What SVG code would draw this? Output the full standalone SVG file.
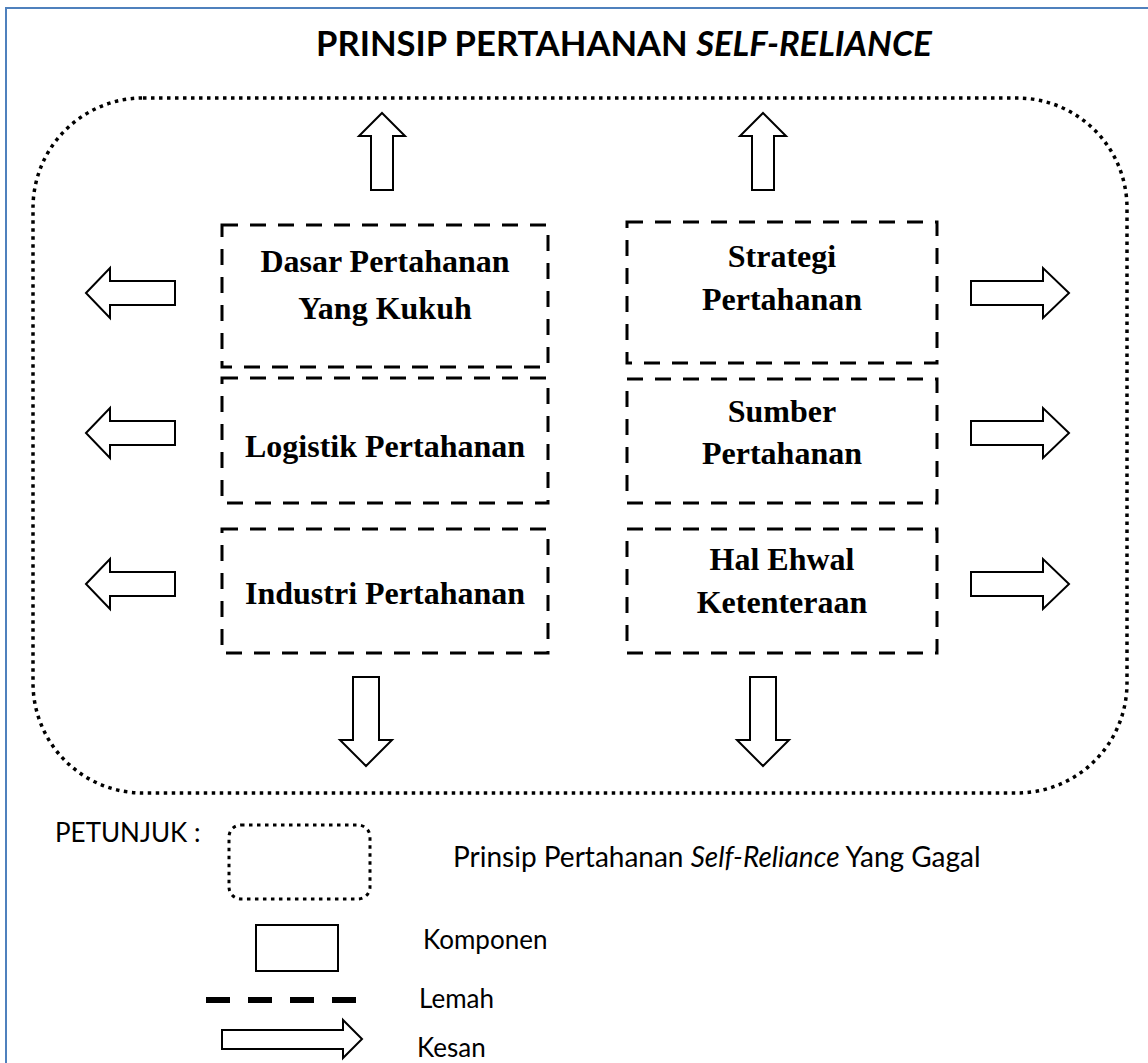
<svg xmlns="http://www.w3.org/2000/svg" width="1148" height="1063" viewBox="0 0 1148 1063">
<style>
.frame{fill:none;stroke:#4f81bd;stroke-width:2}
.outer{fill:none;stroke:#000;stroke-width:3.5;stroke-dasharray:3.5 4.5}
.box{fill:none;stroke:#000;stroke-width:3;stroke-dasharray:16 12}
.arrow{fill:#fff;stroke:#000;stroke-width:2;stroke-linejoin:miter}
.btext{font-family:"Liberation Serif","Times New Roman",serif;font-weight:bold;font-size:32px;text-anchor:middle;fill:#000}
.title{font-family:Lato,"Liberation Sans",sans-serif;font-weight:bold;font-size:34.6px;fill:#000}
.leg{font-family:Lato,"Liberation Sans",sans-serif;font-size:26px;fill:#000}
</style>
<rect class="frame" x="6" y="8" width="1200" height="1100"/>
<text class="title" x="316" y="56">PRINSIP PERTAHANAN <tspan font-style="italic">SELF-RELIANCE</tspan></text>
<g id="outer-boundary">
<rect class="outer" x="33" y="98" width="1094" height="695" rx="110" ry="110"/>
</g>
<g id="node-dasar">
<rect class="box" x="222" y="225" width="326" height="142"/>
<text class="btext" x="385" y="272">Dasar Pertahanan</text>
<text class="btext" x="385" y="319">Yang Kukuh</text>
</g>
<g id="node-logistik">
<rect class="box" x="222" y="378" width="326" height="125"/>
<text class="btext" x="385" y="457">Logistik Pertahanan</text>
</g>
<g id="node-industri">
<rect class="box" x="222" y="529" width="326" height="124"/>
<text class="btext" x="385" y="604">Industri Pertahanan</text>
</g>
<g id="node-strategi">
<rect class="box" x="627" y="222" width="310" height="141"/>
<text class="btext" x="782" y="267">Strategi</text>
<text class="btext" x="782" y="310">Pertahanan</text>
</g>
<g id="node-sumber">
<rect class="box" x="627" y="379" width="310" height="124"/>
<text class="btext" x="782" y="422">Sumber</text>
<text class="btext" x="782" y="464">Pertahanan</text>
</g>
<g id="node-halehwal">
<rect class="box" x="627" y="529" width="310" height="124"/>
<text class="btext" x="782" y="570">Hal Ehwal</text>
<text class="btext" x="782" y="613">Ketenteraan</text>
</g>
<g id="connectors">
<polygon class="arrow" points="382,113 405,136 393,136 393,190 371,190 371,136 359,136"/>
<polygon class="arrow" points="763,113 786,136 774,136 774,190 752,190 752,136 740,136"/>
<polygon class="arrow" points="86,293 110,268 110,281 175,281 175,305 110,305 110,318"/>
<polygon class="arrow" points="86,433 110,408 110,421 175,421 175,445 110,445 110,458"/>
<polygon class="arrow" points="86,584 110,559 110,572 175,572 175,596 110,596 110,609"/>
<polygon class="arrow" points="971,281 1043,281 1043,268 1069,293 1043,318 1043,305 971,305"/>
<polygon class="arrow" points="971,421 1043,421 1043,408 1069,433 1043,458 1043,445 971,445"/>
<polygon class="arrow" points="971,572 1043,572 1043,559 1069,584 1043,609 1043,596 971,596"/>
<polygon class="arrow" points="353,677 379,677 379,740 392,740 366,766 340,740 353,740"/>
<polygon class="arrow" points="750,677 776,677 776,740 789,740 763,766 737,740 750,740"/>
</g>
<g id="legend">
<text class="leg" x="55" y="842">PETUNJUK :</text>
<rect class="outer" x="229" y="825" width="141" height="74" rx="12" ry="12" style="stroke-width:3"/>
<text class="leg" x="453" y="867" style="font-size:28px">Prinsip Pertahanan <tspan font-style="italic">Self-Reliance</tspan> Yang Gagal</text>
<rect fill="none" stroke="#000" stroke-width="2" x="256" y="925" width="82" height="46"/>
<text class="leg" x="423" y="949">Komponen</text>
<line x1="206" y1="1000" x2="356" y2="1000" stroke="#000" stroke-width="6" stroke-dasharray="24 18"/>
<text class="leg" x="419" y="1008">Lemah</text>
<polygon class="arrow" points="222,1030 343,1030 343,1020 362,1039 343,1058 343,1049 222,1049"/>
<text class="leg" x="417" y="1057">Kesan</text>
</g>
</svg>
